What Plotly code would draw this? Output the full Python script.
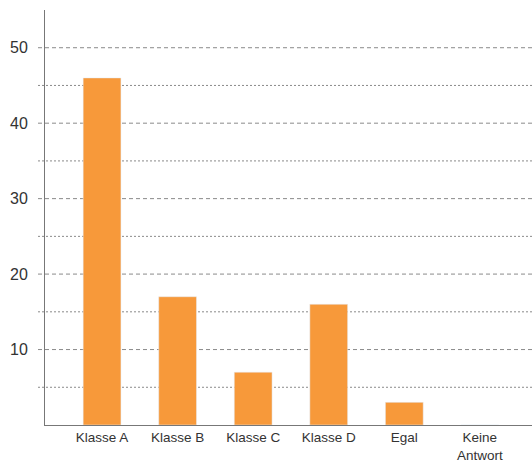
import plotly.graph_objects as go

categories = ["Klasse A", "Klasse B", "Klasse C", "Klasse D", "Egal", "Keine<br>Antwort"]
values = [46, 17, 7, 16, 3, 0]
major_ticks = [10, 20, 30, 40, 50]
minor_ticks = [5, 15, 25, 35, 45]

W, H = 532, 463
ml, mr, mt, mb = 45, 0, 10, 38
pw = W - ml - mr

fig = go.Figure()
fig.add_trace(go.Bar(x=list(range(len(categories))), y=values,
                     marker_color="#F7993A", width=0.5))

shapes = []
x0p = -7 / pw
for v in major_ticks:
    shapes.append(dict(type="line", xref="paper", yref="y", x0=x0p, x1=1, y0=v, y1=v,
                       line=dict(color="#8a8a8a", width=1, dash="4px,3px"), layer="below"))
for v in minor_ticks:
    shapes.append(dict(type="line", xref="paper", yref="y", x0=x0p, x1=1, y0=v, y1=v,
                       line=dict(color="#8a8a8a", width=1, dash="2px,2px"), layer="below"))

fig.update_layout(
    width=W, height=H,
    margin=dict(l=ml, r=mr, t=mt, b=mb, autoexpand=False),
    plot_bgcolor="white", paper_bgcolor="white",
    showlegend=False,
    shapes=shapes,
    font=dict(family="Liberation Sans, Arial, sans-serif", color="#333333"),
    xaxis=dict(range=[-0.755, 5.69], tickmode="array", automargin=False,
               tickvals=list(range(len(categories))), ticktext=categories,
               showgrid=False, zeroline=False, showline=True, linecolor="#777777",
               linewidth=1, ticks="", ticklabelstandoff=0, tickfont=dict(size=13.5)),
    yaxis=dict(range=[0, 55], tickmode="array", tickvals=major_ticks, automargin=False,
               ticktext=[str(v) for v in major_ticks],
               showgrid=False, zeroline=False, showline=True, linecolor="#777777",
               linewidth=1, ticks="", ticklabelstandoff=13, tickfont=dict(size=16)),
)

fig.write_html("out.html")
